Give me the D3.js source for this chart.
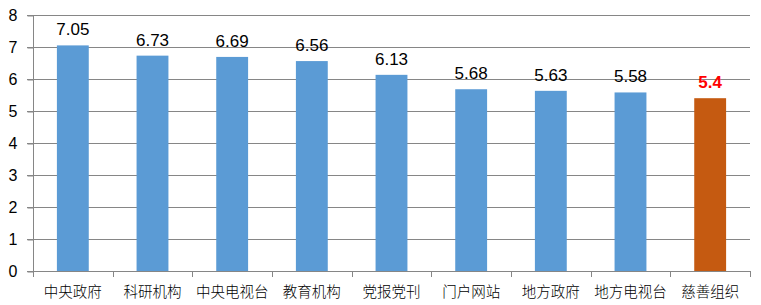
<!DOCTYPE html>
<html><head><meta charset="utf-8">
<script src="https://cdn.jsdelivr.net/npm/d3@7"></script>
<style>body{margin:0;background:#fff}</style>
</head><body>
<svg id="c" width="761" height="305"></svg>
<script>
const categories = ["中央政府","科研机构","中央电视台","教育机构","党报党刊","门户网站","地方政府","地方电视台","慈善组织"];
const values = [7.05,6.73,6.69,6.56,6.13,5.68,5.63,5.58,5.4];
const valueLabels = ["7.05","6.73","6.69","6.56","6.13","5.68","5.63","5.58","5.4"];
const yTicks = [0,1,2,3,4,5,6,7,8];

(function(){
const svg = d3.select("#c");
const mLeft = 33, mRight = 750, mTop = 15, mBottom = 271;
const x = d3.scaleBand().domain(categories).range([mLeft, mRight]).paddingInner(0.6).paddingOuter(0.3);
const y = d3.scaleLinear().domain([0, 8]).range([mBottom, mTop]);
const grid = "#868686";

// gridlines
svg.append("g").selectAll("line").data(yTicks.filter(d=>d>0)).join("line")
  .attr("x1", mLeft-6).attr("x2", mRight).attr("y1", d=>y(d)+0.5).attr("y2", d=>y(d)+0.5)
  .attr("stroke", grid).attr("stroke-width", 1);

// bars
svg.append("g").selectAll("rect").data(values).join("rect")
  .attr("x", (d,i)=>x(categories[i])).attr("width", x.bandwidth())
  .attr("y", d=>y(d)).attr("height", d=>mBottom - y(d))
  .attr("fill", (d,i)=> i===values.length-1 ? "#C55A11" : "#5B9BD5");

// y axis
const ya = svg.append("g").attr("transform", `translate(${mLeft+0.5},0.5)`)
  .call(d3.axisLeft(y).tickValues(yTicks).tickSize(6).tickPadding(10).tickFormat(d3.format("d")));
ya.select(".domain").attr("stroke", grid).attr("d", `M0,${mTop}V${mBottom}`);
ya.selectAll(".tick line").attr("stroke", grid);
ya.selectAll("text").attr("font-family","Liberation Sans, Arial, sans-serif").attr("font-size", 16).attr("fill","#000");

// x axis
const bounds = d3.range(categories.length+1).map(i => mLeft + i*(mRight-mLeft)/categories.length);
const xa = svg.append("g");
xa.append("line").attr("x1", mLeft-6).attr("x2", mRight).attr("y1", mBottom+0.5).attr("y2", mBottom+0.5).attr("stroke", grid);
xa.selectAll(".tk").data(bounds).join("line").attr("class","tk")
  .attr("x1", d=>Math.round(d)+0.5).attr("x2", d=>Math.round(d)+0.5)
  .attr("y1", mBottom).attr("y2", mBottom+6).attr("stroke", grid);
xa.selectAll("text.cat").data(categories).join("text").attr("class","cat")
  .attr("x", d=>x(d)+x.bandwidth()/2).attr("y", 297)
  .attr("text-anchor","middle")
  .attr("font-family","Noto Sans CJK SC, sans-serif").attr("font-size", 14.5).attr("font-weight", 300).attr("fill","#000")
  .text(d=>d);

// value labels
svg.append("g").selectAll("text").data(values).join("text")
  .attr("x", (d,i)=>x(categories[i])+x.bandwidth()/2).attr("y", d=>y(d)-10)
  .attr("text-anchor","middle")
  .attr("font-family","Liberation Sans, Arial, sans-serif").attr("font-size", 17)
  .attr("font-weight", (d,i)=> i===values.length-1 ? "bold" : "normal")
  .attr("fill", (d,i)=> i===values.length-1 ? "#FF0000" : "#000")
  .text((d,i)=>valueLabels[i]);
})();
</script>
</body></html>
